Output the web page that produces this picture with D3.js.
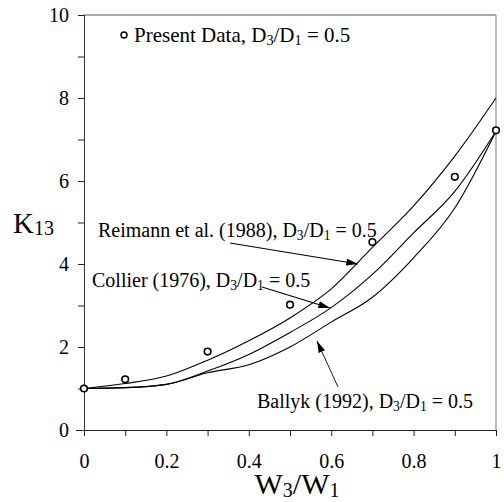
<!DOCTYPE html>
<html><head><meta charset="utf-8">
<script src="https://cdn.jsdelivr.net/npm/d3@7"></script>
<style>body{margin:0;background:#fff}svg{display:block}
svg text, svg tspan{font-family:"Liberation Serif" !important}</style>
</head><body><svg id="c" width="504" height="502"></svg>
<script>
const xVals = [0,0.1,0.2,0.3,0.4,0.5,0.6,0.7,0.8,0.9,1.0];
const reimann = [1.0,1.12,1.3,1.68,2.15,2.7,3.4,4.4,5.4,6.6,8.0];
const collier = [1.0,1.02,1.1,1.42,1.82,2.35,2.95,3.75,4.75,5.75,7.2];
const ballyk  = [1.0,1.02,1.1,1.38,1.57,2.0,2.6,3.2,4.15,5.35,7.2];
const dataX = [0,0.1,0.3,0.5,0.7,0.9,1.0];
const dataY = [1.0,1.22,1.89,3.02,4.53,6.1,7.22];
const xTickLabels = ["0","0.2","0.4","0.6","0.8","1"];
const yTickLabels = ["0","2","4","6","8","10"];

const svg = d3.select("#c");
const x = d3.scaleLinear().domain([0,1]).range([84,496]);
const y = d3.scaleLinear().domain([0,10]).range([430,15]);

svg.append("line").attr("x1",x(0)).attr("x2",x(1)).attr("y1",y(10)).attr("y2",y(10)).attr("stroke","#555").attr("stroke-width",1);
svg.append("line").attr("x1",x(1)).attr("x2",x(1)).attr("y1",y(10)).attr("y2",y(0)).attr("stroke","#777").attr("stroke-width",1);

const xAxis = d3.axisBottom(x).tickValues(d3.range(0,1.0001,0.1)).tickSize(6)
  .tickFormat(d => { const i = Math.round(d*10); return i%2===0 ? xTickLabels[i/2] : ""; });
const gx = svg.append("g").attr("transform",`translate(0,${y(0)})`).call(xAxis);
gx.select(".domain").attr("stroke","#222").attr("d",`M${x(0)-8},0.5H${x(1)}`);
gx.selectAll(".tick line").attr("stroke","#222");
gx.selectAll(".tick text").attr("font-size",20).attr("y",24).attr("dy","0.71em").attr("fill","#000");

const yAxis = d3.axisLeft(y).tickValues(d3.range(0,11,1)).tickSize(6)
  .tickFormat(d => d%2===0 ? yTickLabels[d/2] : "");
const gy = svg.append("g").attr("transform",`translate(${x(0)},0)`).call(yAxis);
gy.select(".domain").attr("stroke","#333").attr("d",`M0.5,${y(0)}V${y(10)}`);
gy.selectAll(".tick line").attr("stroke","#222");
gy.selectAll(".tick text").attr("font-size",20).attr("x",-15).attr("dy","0.34em").attr("fill","#000");

const line = d3.line().x((d,i)=>x(xVals[i])).y(d=>y(d)).curve(d3.curveMonotoneX);
[reimann, collier, ballyk].forEach(s=>{
  svg.append("path").attr("d",line(s)).attr("fill","none").attr("stroke","#000").attr("stroke-width",1.1);
});

svg.selectAll("circle.pt").data(dataX).enter().append("circle").attr("class","pt")
  .attr("cx",d=>x(d)).attr("cy",(d,i)=>y(dataY[i])).attr("r",3.3)
  .attr("fill","#fff").attr("stroke","#000").attr("stroke-width",1.6);

svg.append("defs").append("marker").attr("id","ah").attr("viewBox","0 0 10 6").attr("refX",10).attr("refY",3)
  .attr("markerWidth",12).attr("markerHeight",7).attr("markerUnits","userSpaceOnUse").attr("orient","auto")
  .append("path").attr("d","M0,0L10,3L0,6Z").attr("fill","#000");

function arrow(x1,y1,x2,y2,w){
  svg.append("line").attr("x1",x1).attr("y1",y1).attr("x2",x2).attr("y2",y2)
    .attr("stroke","#000").attr("stroke-width",w||1.2).attr("marker-end","url(#ah)");
}
arrow(230,243,358,264);
arrow(262,287,330,308);
arrow(338,387,317,341,0.9);

function dLabel(px, py, prefix, fs){
  const tx = svg.append("text").attr("x",px).attr("y",py).attr("font-size",fs);
  tx.append("tspan").text(prefix+"D");
  tx.append("tspan").attr("font-size",fs*0.68).attr("dy",3).text("3");
  tx.append("tspan").attr("dy",-3).text("/D");
  tx.append("tspan").attr("font-size",fs*0.68).attr("dy",3).text("1");
  tx.append("tspan").attr("dy",-3).text(" = 0.5");
  return tx;
}
svg.append("circle").attr("cx",124).attr("cy",35).attr("r",3).attr("fill","#fff").attr("stroke","#000").attr("stroke-width",1.4);
dLabel(134,42,"Present Data, ",21);
dLabel(98,237,"Reimann et al. (1988), ",20);
dLabel(92,287,"Collier (1976), ",20);
dLabel(257,408,"Ballyk (1992), ",20);

const yt = svg.append("text").attr("x",13).attr("y",233).attr("font-size",29);
yt.append("tspan").text("K");
yt.append("tspan").attr("font-size",20).attr("dy",2).text("13");

const xt = svg.append("text").attr("x",297).attr("y",494).attr("font-size",30).attr("text-anchor","middle");
xt.append("tspan").text("W");
xt.append("tspan").attr("font-size",20).attr("dy",3).text("3");
xt.append("tspan").attr("dy",-3).text("/W");
xt.append("tspan").attr("font-size",20).attr("dy",3).text("1");
</script></body></html>
